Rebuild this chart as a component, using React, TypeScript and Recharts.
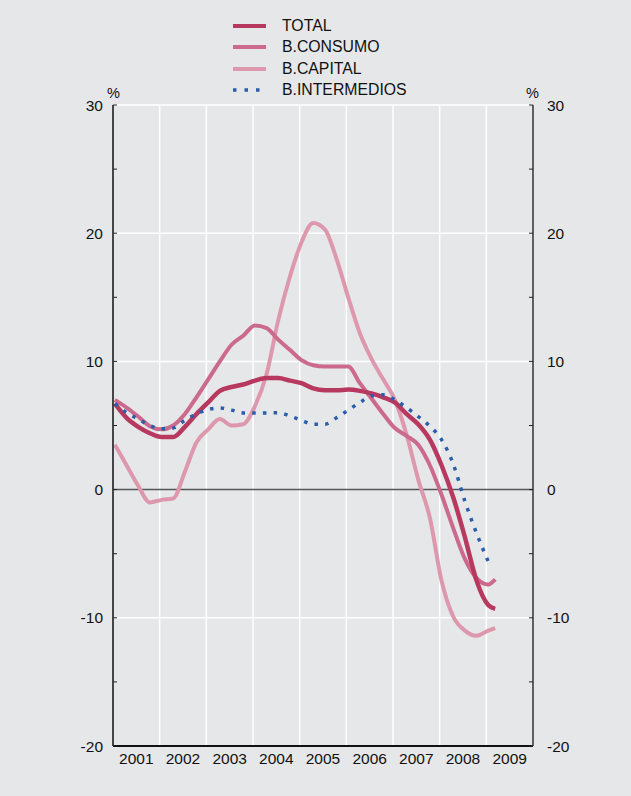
import React from 'react';
import { LineChart, Line, XAxis, YAxis, ReferenceLine } from 'recharts';

// time points (decimal years)
const periods = [
  2001.04, 2001.29, 2001.54, 2001.79, 2002.04, 2002.29, 2002.54, 2002.79,
  2003.04, 2003.29, 2003.54, 2003.79, 2004.04, 2004.29, 2004.54, 2004.79,
  2005.04, 2005.29, 2005.54, 2005.79, 2006.04, 2006.29, 2006.54, 2006.79,
  2007.04, 2007.29, 2007.54, 2007.79, 2008.04, 2008.29, 2008.54, 2008.79,
  2009.04, 2009.19,
];

const total = [
  6.7, 5.6, 4.9, 4.4, 4.1, 4.1, 4.9, 5.9,
  6.8, 7.7, 8.0, 8.2, 8.5, 8.7, 8.7, 8.5,
  8.3, 7.9, 7.75, 7.75, 7.8, 7.7, 7.5, 7.2,
  6.8, 5.9, 5.1, 3.9, 1.9, -0.6, -3.7, -7.1,
  -9.0, -9.3,
];

const consumo = [
  7.0, 6.4, 5.7, 4.95, 4.7, 5.0, 5.9, 7.2,
  8.6, 10.0, 11.3, 12.0, 12.8, 12.6, 11.7, 10.9,
  10.1, 9.7, 9.6, 9.6, 9.6, 8.3, 7.1, 5.9,
  4.8, 4.2, 3.5, 1.9, -0.4, -3.0, -5.4, -6.9,
  -7.4, -7.0,
];

const capital = [
  3.5, 1.9, 0.3, -1.0, -0.8, -0.7, 1.4, 3.7,
  4.7, 5.5, 5.0, 5.1, 6.5, 9.0, 13.2, 16.6,
  19.3, 20.8, 20.3, 18.0, 15.0, 12.2, 10.2, 8.6,
  7.0, 4.3, 0.8, -2.2, -7.1, -9.9, -11.0, -11.4,
  -11.0, -10.8,
];

const intermedios: (number | null)[] = [
  6.7, 6.0, 5.5, 5.0, 4.75, 4.8, 5.4, 5.9,
  6.25, 6.37, 6.2, 5.98, 5.98, 5.98, 6.0, 5.75,
  5.4, 5.1, 5.1, 5.6, 6.2, 6.8, 7.3, 7.4,
  7.0, 6.4, 5.7, 4.95, 3.9, 2.0, -0.9, -3.4,
  -5.6, null,
];

const yearBoundaries = [2001, 2002, 2003, 2004, 2005, 2006, 2007, 2008, 2009, 2010];
const innerYearLines = [2002, 2003, 2004, 2005, 2006, 2007, 2008, 2009];
const yearLabelPositions = [2001.5, 2002.5, 2003.5, 2004.5, 2005.5, 2006.5, 2007.5, 2008.5, 2009.5];
const yTicks = [-20, -15, -10, -5, 0, 5, 10, 15, 20, 25, 30];
const whiteHLines = [30, 20, 10, -10, -20];

const seriesNames = ['TOTAL', 'B.CONSUMO', 'B.CAPITAL', 'B.INTERMEDIOS'];
const seriesKeys = ['total', 'consumo', 'capital', 'intermedios'];
const seriesColors = ['#b8395f', '#cc6a8e', '#de98ae', '#2a5dac'];

const data = periods.map((t, i) => ({
  t,
  total: total[i],
  consumo: consumo[i],
  capital: capital[i],
  intermedios: intermedios[i],
}));

const BG = '#e6e7e9';
const FONT = '"Liberation Sans", Arial, Helvetica, sans-serif';
const FS = 15.5;

const YTick = (anchor: 'start' | 'end') => (props: any) => {
  const { x, y, payload } = props;
  const v = payload.value as number;
  if (v % 10 !== 0) return <g />;
  return (
    <text x={x} y={y} dy="0.36em" textAnchor={anchor} fill="#111" fontSize={FS} fontFamily={FONT}>
      {String(v)}
    </text>
  );
};

export default function App() {
  return (
    <div style={{ position: 'absolute', left: 0, top: 0, width: 631, height: 796, background: BG, fontFamily: FONT }}>
      <LineChart
        width={631}
        height={796}
        data={data}
        margin={{ top: 105, right: 0, bottom: 0, left: 0 }}
        style={{ position: 'absolute', left: 0, top: 0 }}
      >
        <XAxis
          xAxisId="grid"
          dataKey="t"
          type="number"
          domain={[2001, 2010]}
          ticks={yearBoundaries}
          allowDataOverflow
          height={1}
          tick={false}
          tickSize={-4}
          tickLine={{ stroke: '#222', strokeWidth: 1 }}
          axisLine={{ stroke: '#111', strokeWidth: 2 }}
        />
        <XAxis
          xAxisId="lbl"
          dataKey="t"
          type="number"
          domain={[2001, 2010]}
          ticks={yearLabelPositions}
          allowDataOverflow
          height={49}
          axisLine={false}
          tickLine={false}
          tickSize={0}
          tickMargin={6}
          interval={0}
          tickFormatter={(v: number) => String(Math.floor(v))}
          tick={{ fill: '#111', fontSize: FS, fontFamily: FONT }}
        />
        <YAxis
          yAxisId="L"
          orientation="left"
          type="number"
          domain={[-20, 30]}
          ticks={yTicks}
          interval={0}
          allowDataOverflow
          width={113}
          tickSize={-4}
          tickMargin={14}
          tickLine={{ stroke: '#222', strokeWidth: 1 }}
          axisLine={{ stroke: '#111', strokeWidth: 1.5 }}
          tick={YTick('end')}
        />
        <YAxis
          yAxisId="R"
          orientation="right"
          type="number"
          domain={[-20, 30]}
          ticks={yTicks}
          interval={0}
          allowDataOverflow
          width={98}
          tickSize={-4}
          tickMargin={18}
          tickLine={{ stroke: '#222', strokeWidth: 1 }}
          axisLine={{ stroke: '#333', strokeWidth: 1.5 }}
          tick={YTick('start')}
        />
        {innerYearLines.map((x) => (
          <ReferenceLine key={'v' + x} x={x} xAxisId="grid" yAxisId="L" stroke="#ffffff" strokeWidth={1.5} />
        ))}
        {whiteHLines.map((y) => (
          <ReferenceLine key={'h' + y} y={y} xAxisId="grid" yAxisId="L" stroke="#ffffff" strokeWidth={1.5} />
        ))}
        <ReferenceLine y={0} xAxisId="grid" yAxisId="L" stroke="#555" strokeWidth={1.5} />
        <Line xAxisId="grid" yAxisId="R" type="monotone" dataKey="capital" stroke={seriesColors[2]} strokeWidth={4} dot={false} isAnimationActive={false} />
        <Line xAxisId="grid" yAxisId="L" type="monotone" dataKey="consumo" stroke={seriesColors[1]} strokeWidth={4} dot={false} isAnimationActive={false} />
        <Line xAxisId="grid" yAxisId="L" type="monotone" dataKey="total" stroke={seriesColors[0]} strokeWidth={4.5} dot={false} isAnimationActive={false} />
        <Line xAxisId="grid" yAxisId="L" type="monotone" dataKey="intermedios" stroke={seriesColors[3]} strokeWidth={3.5} strokeDasharray="3.5 7.2" dot={false} isAnimationActive={false} />
      </LineChart>

      <div style={{ position: 'absolute', left: 107, top: 85, fontSize: 14.5, color: '#111' }}>%</div>
      <div style={{ position: 'absolute', left: 526, top: 85, fontSize: 14.5, color: '#111' }}>%</div>

      <div style={{ position: 'absolute', left: 233, top: 15 }}>
        {seriesNames.map((name, i) => (
          <div key={seriesKeys[i]} style={{ display: 'flex', alignItems: 'center', height: 21.5 }}>
            {i === 3 ? (
              <svg width={33} height={6}>
                <line x1={0} y1={3} x2={33} y2={3} stroke={seriesColors[i]} strokeWidth={3.5} strokeDasharray="3.5 8" />
              </svg>
            ) : (
              <svg width={33} height={6}>
                <line x1={0} y1={3} x2={33} y2={3} stroke={seriesColors[i]} strokeWidth={4} />
              </svg>
            )}
            <span style={{ marginLeft: 16, fontSize: 15.8, color: '#111', lineHeight: '16px' }}>{name}</span>
          </div>
        ))}
      </div>
    </div>
  );
}
